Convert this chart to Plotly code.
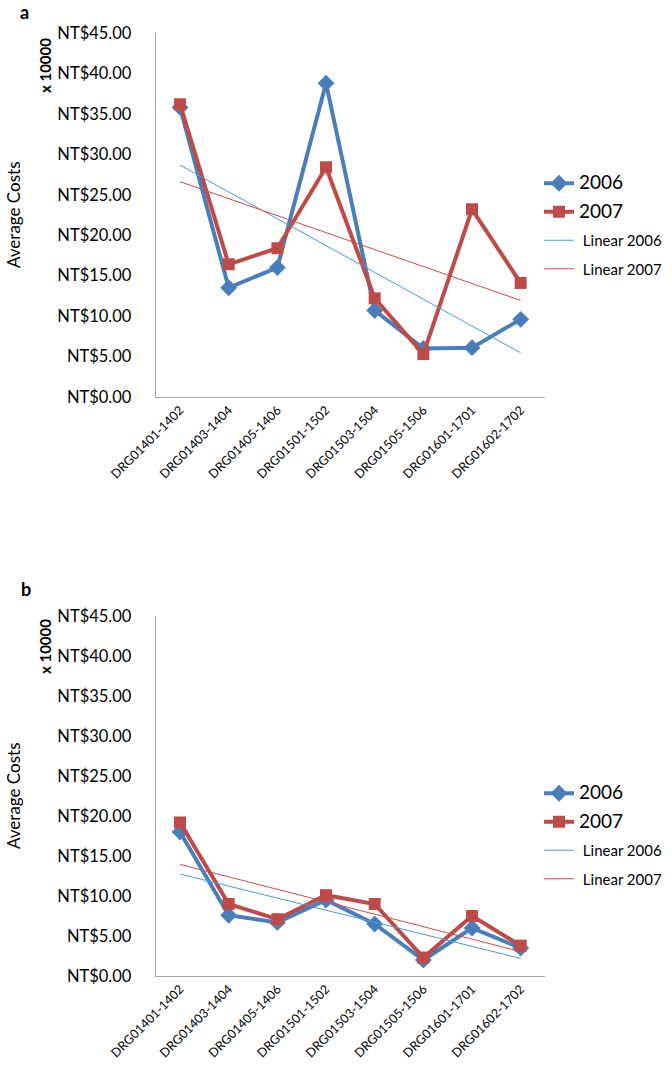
import numpy as np
import plotly.graph_objects as go

categories = ["DRG01401-1402", "DRG01403-1404", "DRG01405-1406", "DRG01501-1502",
              "DRG01503-1504", "DRG01505-1506", "DRG01601-1701", "DRG01602-1702"]

# Panel a (x 10000 NT$)
a_2006 = [35.8, 13.5, 16.0, 38.8, 10.7, 6.0, 6.1, 9.6]
a_2007 = [36.2, 16.4, 18.4, 28.4, 12.2, 5.3, 23.2, 14.1]
# Panel b (x 10000 NT$)
b_2006 = [18.0, 7.6, 6.7, 9.5, 6.5, 2.0, 6.0, 3.5]
b_2007 = [19.2, 9.0, 7.1, 10.1, 9.0, 2.3, 7.5, 3.8]

series_names = ["2006", "2007"]
trend_names = ["Linear 2006", "Linear 2007"]

# body margin is removed by post_script, so the figure fills the page
W, H = 672, 1073
FONT = "Lato"
BLUE = "#4A7EBB"
RED = "#BE4B48"
BLUE_T = "#4A9AD6"
RED_T = "#D04A47"
AXIS = "#A6A6A6"


def px(x):
    return x / W


def py(y):
    return 1 - y / H


def trend(vals):
    x = np.arange(len(vals))
    m, c = np.polyfit(x, np.array(vals, dtype=float), 1)
    return list(m * x + c)


fig = go.Figure()

panels = [
    (a_2006, a_2007, "x", "y", "legend", "a"),
    (b_2006, b_2007, "x2", "y2", "legend2", "b"),
]
for s06, s07, xa, ya, lg, p in panels:
    fig.add_trace(go.Scatter(x=categories, y=s06, mode="lines+markers",
                             name='<span style="font-size:19px">' + series_names[0] + '</span>',
                             line=dict(color=BLUE, width=4),
                             marker=dict(symbol="diamond", size=13, color=BLUE),
                             xaxis=xa, yaxis=ya, legend=lg, legendgroup=p + "0"))
    fig.add_trace(go.Scatter(x=categories, y=s07, mode="lines+markers",
                             name='<span style="font-size:19px">' + series_names[1] + '</span>',
                             line=dict(color=RED, width=4),
                             marker=dict(symbol="square", size=12, color=RED),
                             xaxis=xa, yaxis=ya, legend=lg, legendgroup=p + "1"))
    fig.add_trace(go.Scatter(x=categories, y=trend(s06), mode="lines",
                             name='<span style="font-size:15px"> ' + trend_names[0] + '</span>',
                             line=dict(color=BLUE_T, width=1),
                             xaxis=xa, yaxis=ya, legend=lg, legendgroup=p + "2"))
    fig.add_trace(go.Scatter(x=categories, y=trend(s07), mode="lines",
                             name='<span style="font-size:15px"> ' + trend_names[1] + '</span>',
                             line=dict(color=RED_T, width=1),
                             xaxis=xa, yaxis=ya, legend=lg, legendgroup=p + "3"))

xdom = [px(155.7), px(545)]
ya_dom = [py(397), py(33)]
yb_dom = [py(976), py(616)]

xcommon = dict(domain=xdom, showline=True, linecolor=AXIS, linewidth=1, showgrid=False,
               zeroline=False, ticks="", tickangle=-45, automargin=False,
               tickfont=dict(family=FONT, size=12.5, color="#000"),
               range=[-0.5, 7.5], fixedrange=True)
ycommon = dict(showline=True, linecolor=AXIS, linewidth=1, showgrid=False, zeroline=False,
               range=[0, 45], dtick=5, tick0=0, tickprefix="NT$", tickformat=".2f",
               ticks="", ticklabelstandoff=20, automargin=False,
               tickfont=dict(family=FONT, size=16.5, color="#000"))

legcommon = dict(xanchor="left", yanchor="top", bgcolor="rgba(0,0,0,0)",
                 font=dict(family=FONT, size=15, color="#000"),
                 itemwidth=30, tracegroupgap=6, traceorder="grouped")

fig.update_layout(
    width=W, height=H,
    margin=dict(l=0, r=0, t=0, b=0, autoexpand=False),
    paper_bgcolor="white", plot_bgcolor="white",
    font=dict(family=FONT, color="#000"),
    showlegend=True,
    xaxis=dict(**xcommon, anchor="y"),
    yaxis=dict(**ycommon, domain=ya_dom, anchor="x"),
    xaxis2=dict(**xcommon, anchor="y2"),
    yaxis2=dict(**ycommon, domain=yb_dom, anchor="x2"),
    legend=dict(**legcommon, x=px(539), y=py(167)),
    legend2=dict(**legcommon, x=px(539), y=py(777)),
)

annots = [
    dict(text="<b>a</b>", x=24, y=12, size=18, angle=0),
    dict(text="<b>b</b>", x=26, y=589, size=18, angle=0),
    dict(text="Average Costs", x=13, y=215, size=17, angle=-90),
    dict(text="Average Costs", x=13, y=796, size=17, angle=-90),
    dict(text="<b>x 10000</b>", x=45, y=66, size=15, angle=-90),
    dict(text="<b>x 10000</b>", x=45, y=647, size=15, angle=-90),
]
for a in annots:
    fig.add_annotation(text=a["text"], x=px(a["x"]), y=py(a["y"]), xref="paper", yref="paper",
                       xanchor="center", yanchor="middle", showarrow=False,
                       textangle=a["angle"], font=dict(family=FONT, size=a["size"], color="#000"))

fig.write_html("out.html", config={"displayModeBar": False},
               post_script="document.body.style.margin='0';document.body.style.overflow='hidden';")
